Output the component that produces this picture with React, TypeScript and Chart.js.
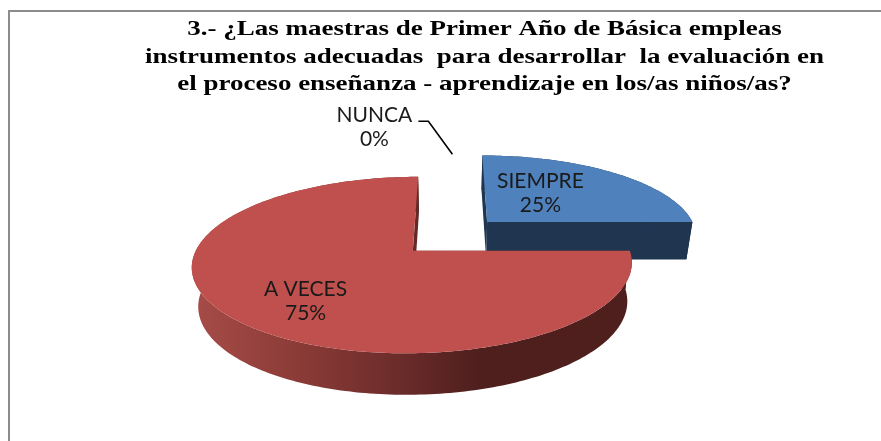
import React, { useEffect, useRef } from "react";
import { Chart, registerables } from "chart.js";

Chart.register(...registerables);

const TITLE_LINES = [
  "3.- ¿Las maestras de Primer Año de Básica empleas",
  "instrumentos adecuadas  para desarrollar  la evaluación en",
  "el proceso enseñanza - aprendizaje en los/as niños/as?",
];
const CATEGORIES = ["SIEMPRE", "A VECES", "NUNCA"];
const VALUES = [25, 75, 0];
const TOP_COLORS = ["#4f81bd", "#c0504d", "#9bbb59"];

// Perspective of the tilted pie: unit-circle coordinates -> screen pixels
const VIEW = { x0: 451, y0: 236, ax: 211, ay: 81.2, persp: -0.158, narrow: 0.975 };
const project = (u: number, v: number, low = false) => {
  const w = 1 + VIEW.persp * v;
  const x = (VIEW.ax * u) / w;
  const y = (VIEW.ay * v) / w;
  if (!low) return [VIEW.x0 + x, VIEW.y0 + y];
  return [VIEW.x0 + x * VIEW.narrow, VIEW.y0 + y + 38 + 3 * v];
};
const TITLE_CENTER = 484.5;
const TITLE_STRETCH = 1.227;

const fillPoly = (ctx: any, pts: number[][]) => {
  ctx.beginPath();
  pts.forEach((p, k) => (k === 0 ? ctx.moveTo(p[0], p[1]) : ctx.lineTo(p[0], p[1])));
  ctx.closePath();
  ctx.fill();
};

const pie3d = {
  id: "pie3d",
  beforeDraw(chart: any) {
    // The reference title is stretched horizontally
    const ctx = chart.ctx;
    ctx.save();
    ctx.translate(TITLE_CENTER, 0);
    ctx.scale(TITLE_STRETCH, 1);
    ctx.translate(-TITLE_CENTER, 0);
  },
  beforeDatasetsDraw(chart: any) {
    const ctx = chart.ctx;
    ctx.restore();
    const arcs = chart.getDatasetMeta(0).data;
    const grad = ctx.createLinearGradient(193, 0, 631, 0);
    grad.addColorStop(0, "#a64c48");
    grad.addColorStop(0.24, "#8b3b37");
    grad.addColorStop(0.47, "#6b2c2a");
    grad.addColorStop(0.65, "#4f1f1e");
    grad.addColorStop(1, "#4f1f1e");
    const walls = ["#1f3550", grad, "#5f7030"];
    arcs.forEach((el: any, i: number) => {
      const { startAngle, endAngle, outerRadius } = el.getProps(
        ["startAngle", "endAngle", "outerRadius"], true);
      if (endAngle - startAngle < 1e-4) return;
      const mid = (startAngle + endAngle) / 2;
      const off = el.options.offset / outerRadius;
      const au = Math.cos(mid) * off;
      const av = Math.sin(mid) * off;
      const rim: number[][] = [];
      const n = Math.ceil((endAngle - startAngle) / 0.02);
      for (let k = 0; k <= n; k++) {
        const a = startAngle + ((endAngle - startAngle) * k) / n;
        rim.push([au + Math.cos(a), av + Math.sin(a)]);
      }
      const up = (p: number[]) => project(p[0], p[1]);
      const down = (p: number[]) => project(p[0], p[1], true);
      const apex = [au, av];
      ctx.save();
      ctx.fillStyle = walls[i];
      // radial walls, then the curved wall as one shape
      [rim[0], rim[rim.length - 1]].forEach((e) =>
        fillPoly(ctx, [up(apex), up(e), down(e), down(apex)]));
      fillPoly(ctx, [...rim.map(up), ...rim.slice().reverse().map(down)]);
      // top face
      ctx.fillStyle = el.options.backgroundColor;
      fillPoly(ctx, [up(apex), ...rim.map(up)]);
      ctx.restore();
    });
    return false;
  },
  afterDraw(chart: any) {
    const ctx = chart.ctx;
    const total = VALUES.reduce((a, b) => a + b, 0);
    // label anchors, in pie-unit coordinates
    const anchors = [
      [0.462, -0.572],
      [-0.612, 0.71],
      [-0.46, -1.69],
    ];
    ctx.save();
    ctx.font = "21px Lato";
    ctx.fillStyle = "#1a1a1a";
    ctx.textAlign = "center";
    ctx.textBaseline = "middle";
    CATEGORIES.forEach((name, i) => {
      const p = project(anchors[i][0], anchors[i][1]);
      ctx.fillText(name, p[0], p[1] - 12);
      ctx.fillText(Math.round((VALUES[i] / total) * 100) + "%", p[0], p[1] + 12);
    });
    // leader of the empty slice
    ctx.strokeStyle = "#000000";
    ctx.lineWidth = 1.6;
    const a = project(anchors[2][0], anchors[2][1]);
    ctx.beginPath();
    ctx.moveTo(a[0] + 44, a[1] - 6.5);
    ctx.lineTo(a[0] + 54, a[1] - 6.5);
    ctx.lineTo(a[0] + 78, a[1] + 26.5);
    ctx.stroke();
    ctx.restore();
  },
};

export default function App() {
  const ref = useRef<HTMLCanvasElement>(null);
  useEffect(() => {
    const chart = new Chart(ref.current as HTMLCanvasElement, {
      type: "pie",
      plugins: [pie3d],
      data: {
        labels: CATEGORIES,
        datasets: [{ data: VALUES, backgroundColor: TOP_COLORS, borderWidth: 0, offset: 37 }],
      },
      options: {
        animation: false,
        responsive: false,
        layout: { padding: { left: 88 } },
        plugins: {
          legend: { display: false },
          tooltip: { enabled: false },
          title: {
            display: true,
            text: TITLE_LINES,
            fullSize: false,
            color: "#000000",
            font: { family: "'Liberation Serif'", weight: "bold", size: 22, lineHeight: 1.25 },
            padding: { top: 16, bottom: 8 },
          },
        },
      },
    } as any);
    return () => chart.destroy();
  }, []);
  return (
    <div style={{ position: "fixed", inset: 0, width: 881, height: 441, background: "#fff", overflow: "hidden" }}>
      <div style={{ position: "absolute", left: 8, top: 10, width: 873, height: 431, borderTop: "2px solid #8c8c8c", borderLeft: "2px solid #8c8c8c", boxSizing: "border-box" }} />
      <canvas ref={ref} width={881} height={441} style={{ position: "absolute", left: 0, top: 0 }} />
    </div>
  );
}
